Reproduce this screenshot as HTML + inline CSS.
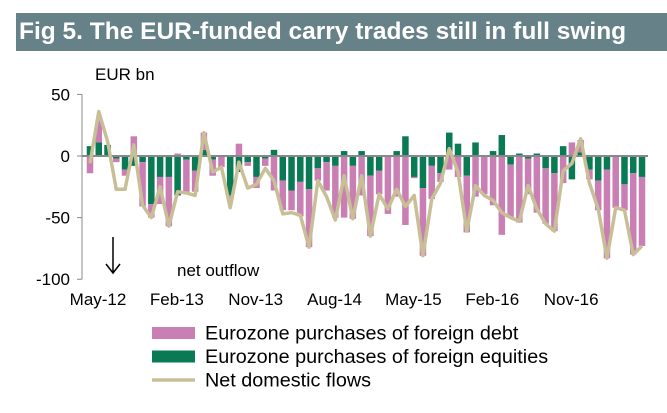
<!DOCTYPE html>
<html><head><meta charset="utf-8"><style>
body{margin:0;background:#fff;width:667px;height:413px;overflow:hidden;font-family:"Liberation Sans",sans-serif;}
#hdr{position:absolute;left:16px;top:13px;width:651px;height:38px;background:#668288;}
#hdr span{position:absolute;left:3px;top:5px;color:#fff;font-weight:bold;font-size:24.5px;white-space:nowrap;}
</style></head><body>
<div id="hdr"><span>Fig 5. The EUR-funded carry trades still in full swing</span></div>
<svg id="c" width="667" height="413" style="position:absolute;left:0;top:0"></svg>
<script>
const categories=['May-12','Feb-13','Nov-13','Aug-14','May-15','Feb-16','Nov-16'];
const yTicks=[50,0,-50,-100];
const yTickLabels=['50','0','-50','-100'];
const equities=[8,11,9,-2,-11,-8,-5,-39,-17,-17,-32,-3,-12,5,-3,0,-32,-13,-5,-17,-2,5,-20,-28,-21,-27,-10,-5,-8,4,-8,4,-16,-12,0,4,16,-17,-26,-8,-14,19,10,-16,11,0,4,17,-7,2,-2,2,-10,-14,8,-19,3,-11,-20,-11,0,-23,-14,-17];
const debt=[-14,18,0,-3,-5,16,-36,-11,-22,-40,2,-26,-17,14,-13,-9,-2,10,-3,-9,-6,-28,-24,-16,-28,-47,-10,-23,-42,-50,-43,-32,-49,-19,-47,-33,-56,-1,-55,-27,-7,-11,-17,-46,-33,-31,-40,-64,-43,-54,-29,-46,-45,-47,-22,11,10,-8,-24,-72,-42,-21,-66,-56];
const net=[-6,36,12,-27,-27,9,-40,-50,-25,-57,-29,-30,-32,19,-13,-9,-42,-5,-26,-23,-10,-20,-47,-46,-48,-74,-20,-33,-52,-16,-51,-16,-65,-31,-43,-27,-41,-32,-81,-35,-22,6,-13,-61,-24,-32,-36,-46,-50,-53,-24,-43,-55,-61,-12,-6,14,-22,-43,-83,-42,-44,-80,-73];
const svg=document.getElementById('c');const NS='http://www.w3.org/2000/svg';
const x0=90,x1=642,yZero=156,pxPer=1.232;
const n=debt.length;
const xs=i=>x0+(x1-x0)*i/(n-1);
const ys=v=>yZero-v*pxPer;
function mk(t,a,p){const e=document.createElementNS(NS,t);for(const k in a)e.setAttribute(k,a[k]);(p||svg).appendChild(e);return e;}
let ax=mk('line',{x1:82,y1:ys(50),x2:82,y2:ys(-100),stroke:'#888','stroke-width':1});


yTicks.forEach((v,i)=>{
 let t=mk('line',{x1:77,x2:82,y1:ys(v),y2:ys(v),stroke:'#888'});
 
 
 let l=mk('text',{x:70,y:ys(v)+6,'text-anchor':'end','font-size':17,fill:'#000'});
 l.textContent=yTickLabels[i];
 
 
});
const bw=6.5;
for(let i=0;i<n;i++){
 const e=equities[i],d=debt[i];
 let g=mk('rect',{x:xs(i)-bw/2,y:Math.min(ys(0),ys(e)),width:bw,height:Math.abs(e)*pxPer,fill:'#0a7a55'});
 
 
 const base=(Math.sign(e)===Math.sign(d))?e:0;
 let p=mk('rect',{x:xs(i)-bw/2,y:Math.min(ys(base),ys(base+d)),width:bw,height:Math.abs(d)*pxPer,fill:'#c97fb4'});
 
 
}
let z=mk('line',{x1:82,x2:648,y1:yZero,y2:yZero,stroke:'#888','stroke-width':2});


let pts=net.map((v,i)=>xs(i)+','+ys(v)).join(' ');
let pl=mk('polyline',{points:pts,fill:'none',stroke:'#c8bf97','stroke-width':3.5,'stroke-linejoin':'round'});


categories.forEach((c,i)=>{
 let t=mk('text',{x:xs(i*9)+8,y:305,'text-anchor':'middle','font-size':17,fill:'#000'});
 t.textContent=c;
 
 
});
let u=mk('text',{x:95,y:80,'font-size':17});u.textContent='EUR bn';


let no=mk('text',{x:177,y:276,'font-size':17});no.textContent='net outflow';


let ar=mk('path',{d:'M113 237 V272 M106 264 L113 273 L120 264',stroke:'#000','stroke-width':1.5,fill:'none'});


const legendLabels=['Eurozone purchases of foreign debt','Eurozone purchases of foreign equities','Net domestic flows'];
const legendColors=['#c97fb4','#0a7a55','#c8bf97'];
legendLabels.forEach((s,i)=>{
 const y=333+i*23.5;
 let sw=(i<2)?mk('rect',{x:152,y:y-6,width:43,height:12,fill:legendColors[i]}):mk('line',{x1:152,x2:195,y1:y,y2:y,stroke:legendColors[i],'stroke-width':3.5});
 
 
 let t=mk('text',{x:205,y:y+6.5,'font-size':19.8});t.textContent=s;
 
 
});
</script>
</body></html>
